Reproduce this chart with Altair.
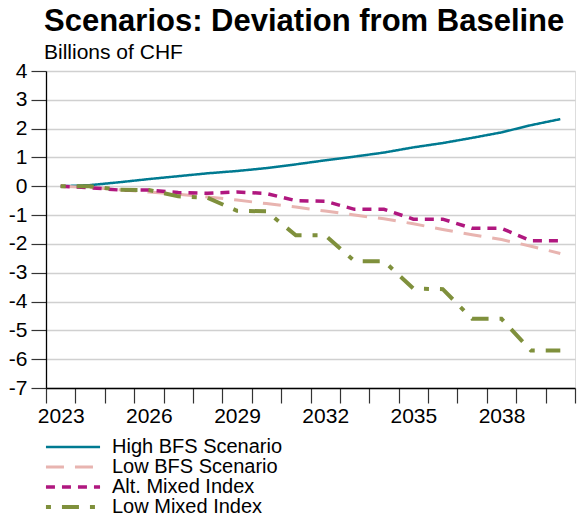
import altair as alt
import pandas as pd

years = list(range(2023, 2041))
high_bfs = [0.0, 0.04, 0.14, 0.25, 0.35, 0.45, 0.53, 0.63, 0.76, 0.9, 1.03, 1.17, 1.35, 1.5, 1.68, 1.87, 2.12, 2.33]
low_bfs = [0.0, -0.04, -0.12, -0.2, -0.28, -0.37, -0.48, -0.6, -0.72, -0.86, -1.0, -1.13, -1.3, -1.5, -1.68, -1.85, -2.08, -2.33]
alt_mixed = [0.0, -0.05, -0.13, -0.13, -0.22, -0.24, -0.2, -0.25, -0.5, -0.52, -0.8, -0.8, -1.14, -1.14, -1.46, -1.46, -1.89, -1.89]
low_mixed = [0.0, 0.0, -0.12, -0.13, -0.35, -0.4, -0.85, -0.87, -1.7, -1.7, -2.6, -2.6, -3.55, -3.57, -4.6, -4.6, -5.7, -5.7]

series_names = ["High BFS Scenario", "Low BFS Scenario", "Alt. Mixed Index", "Low Mixed Index"]
series_values = [high_bfs, low_bfs, alt_mixed, low_mixed]
colors = ["#007a91", "#e8b4b0", "#b0177f", "#7f903c"]
dashes = [[1, 0], [18, 11], [9, 7], [5, 11, 17, 11]]
widths = [2.5, 4, 2.5, 5]

y_ticks = list(range(-7, 5))
x_ticks = list(range(2023, 2042))

rows = []
for name, vals in zip(series_names, series_values):
    for yr, v in zip(years, vals):
        rows.append({"year": yr, "value": v, "series": name})
df = pd.DataFrame(rows)

FONT = "Liberation Sans"

chart = alt.Chart(df).transform_calculate(
    xpos="datum.year + 0.5"
).mark_line(strokeJoin="miter").encode(
    x=alt.X("xpos:Q",
            scale=alt.Scale(domain=[2023, 2041], nice=False, zero=False),
            axis=alt.Axis(values=x_ticks, format="d", title=None,
                          labelExpr="(datum.value - 2023) % 3 == 0 && datum.value < 2041 ? datum.label : ''",
                          labelOffset=14.7, labelFontSize=21, labelFont=FONT, labelColor="black",
                          tickSize=15, tickColor="#333", tickWidth=1.2,
                          domainColor="black", domainWidth=1.3,
                          labelPadding=2, grid=False, labelOverlap=False,
                          labelBound=False, labelFlush=False)),
    y=alt.Y("value:Q",
            scale=alt.Scale(domain=[-7, 4], nice=False, zero=False),
            axis=alt.Axis(values=y_ticks, title=None,
                          labelExpr="toString(datum.value)",
                          labelFontSize=21, labelFont=FONT, labelColor="black",
                          tickSize=15, tickColor="#333", tickWidth=1.2,
                          domainColor="black", domainWidth=1.3,
                          labelPadding=4, grid=True, gridColor="#d0d0d0",
                          gridWidth=1.3, labelOverlap=False)),
    color=alt.Color("series:N", scale=alt.Scale(domain=series_names, range=colors),
                    legend=alt.Legend(title=None, orient="none", legendX=17, legendY=366,
                                      labelFontSize=20, labelFont=FONT, labelColor="black",
                                      labelLimit=400,
                                      symbolType="M-5,0H5", symbolSize=117,
                                      labelOffset=29, rowPadding=-2)),
    strokeDash=alt.StrokeDash("series:N", scale=alt.Scale(domain=series_names, range=dashes)),
    strokeWidth=alt.StrokeWidth("series:N", scale=alt.Scale(domain=series_names, range=widths)),
    order=alt.Order("year:Q"),
).properties(
    width=529,
    height=317,
    padding={"left": 46, "top": 71, "right": 3, "bottom": 129},
    autosize=alt.AutoSizeParams(type="none"),
    title=alt.Title("Scenarios: Deviation from Baseline", subtitle="Billions of CHF",
                    anchor="start", frame="group", font=FONT, fontSize=31,
                    fontWeight="bold", color="black", subtitleFont=FONT,
                    subtitleFontSize=21, subtitleColor="black", offset=-4,
                    subtitlePadding=4, dx=-2),
).configure_view(stroke=None).configure(background="white")

chart.save("out.html", embed_options={"renderer": "svg", "actions": False})
